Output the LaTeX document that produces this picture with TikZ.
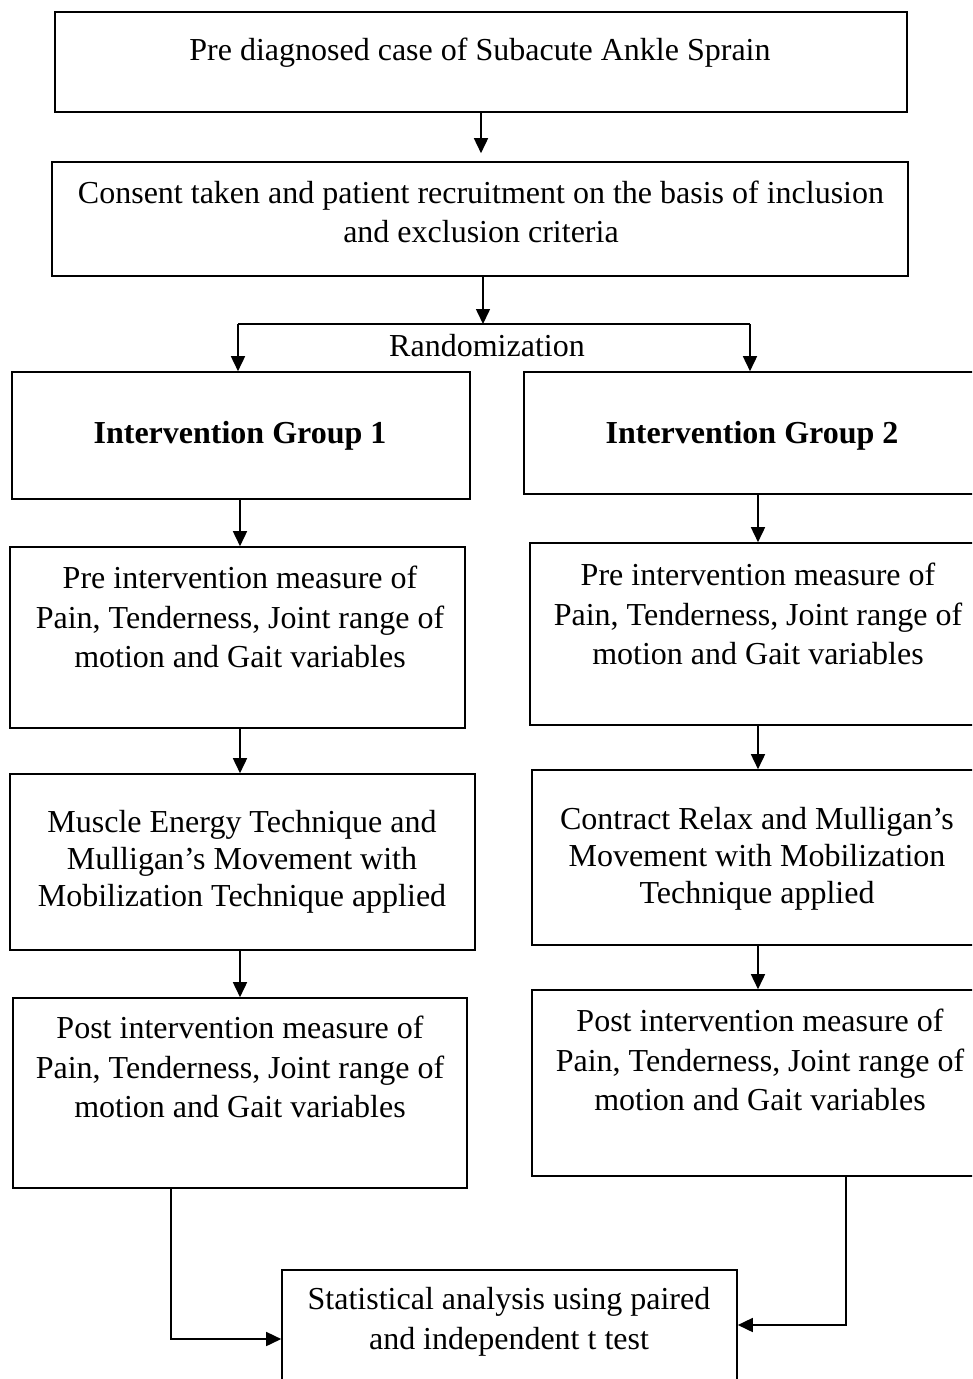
\documentclass[tikz,border=0pt]{standalone}
\usepackage{fontspec}
\setmainfont{Liberation Serif}
\usetikzlibrary{arrows.meta,fit}
\tikzset{
  box/.style={draw, line width=1.6pt, inner sep=0pt},
  txt/.style={align=center, inner sep=0pt, font=\fontsize{32}{39.5}\selectfont},
  txtb/.style={txt, font=\fontsize{32}{39.5}\selectfont\bfseries},
  conn/.style={line width=1.6pt},
  arr/.style={conn, -{Triangle[length=15pt,width=14pt]}}
}
\begin{document}
\begin{tikzpicture}[x=1pt,y=-1pt]
\useasboundingbox (0,0) rectangle (972,1379);
\clip (0,0) rectangle (972,1379);
% boxes
\node[box, fit={(55,12) (907,112)}] (top) {};
\node[box, fit={(52,162) (908,276)}] (consent) {};
\node[box, fit={(12,372) (470,499)}] (ig1) {};
\node[box, fit={(524,372) (990,494)}] (ig2) {};
\node[box, fit={(10,547) (465,728)}] (pre1) {};
\node[box, fit={(530,543) (990,725)}] (pre2) {};
\node[box, fit={(10,774) (475,950)}] (met) {};
\node[box, fit={(532,770) (990,945)}] (cr) {};
\node[box, fit={(13,998) (467,1188)}] (post1) {};
\node[box, fit={(532,990) (990,1176)}] (post2) {};
\node[box, fit={(282,1270) (737,1395)}] (stat) {};
% texts
\node[txt] (ttop) at (480,53) {Pre diagnosed case of Subacute Ankle Sprain};
\node[txt] (tconsent) at (481,212) {Consent taken and patient recruitment on the basis of inclusion\\and exclusion criteria};
\node[txt] (rand) at (487,346) {Randomization};
\node[txtb] (tig1) at (240,436) {Intervention Group 1};
\node[txtb] (tig2) at (752,436) {Intervention Group 2};
\node[txt] (tpre1) at (240,617) {Pre intervention measure of\\Pain, Tenderness, Joint range of\\motion and Gait variables};
\node[txt] (tpre2) at (758,614) {Pre intervention measure of\\Pain, Tenderness, Joint range of\\motion and Gait variables};
\node[txt, font=\fontsize{32}{37}\selectfont] (tmet) at (242,862) {Muscle Energy Technique and\\Mulligan’s Movement with\\Mobilization Technique applied};
\node[txt, font=\fontsize{32}{37}\selectfont] (tcr) at (757,859) {Contract Relax and Mulligan’s\\Movement with Mobilization\\Technique applied};
\node[txt] (tpost1) at (240,1067) {Post intervention measure of\\Pain, Tenderness, Joint range of\\motion and Gait variables};
\node[txt] (tpost2) at (760,1060) {Post intervention measure of\\Pain, Tenderness, Joint range of\\motion and Gait variables};
\node[txt] (tstat) at (509,1322) {Statistical analysis using paired\\and independent t test};
% coordinates
\coordinate (a1) at (481,0);
\coordinate (jM) at (483,324);
\coordinate (jL) at (238,324);
\coordinate (jR) at (750,324);
\coordinate (xl) at (240,0);
\coordinate (xr) at (758,0);
\coordinate (cL) at (171,1339);
\coordinate (cR) at (846,1325);
% connectors
\draw[arr, shorten >=8pt] (a1 |- top.south) -- (a1 |- consent.north);
\draw[arr] (jM |- consent.south) -- (jM);
\draw[conn] (jL) -- (jR);
\draw[arr] (jL) -- (jL |- ig1.north);
\draw[arr] (jR) -- (jR |- ig2.north);
\draw[arr] (xl |- ig1.south) -- (xl |- pre1.north);
\draw[arr] (xl |- pre1.south) -- (xl |- met.north);
\draw[arr] (xl |- met.south) -- (xl |- post1.north);
\draw[arr] (xr |- ig2.south) -- (xr |- pre2.north);
\draw[arr] (xr |- pre2.south) -- (xr |- cr.north);
\draw[arr] (xr |- cr.south) -- (xr |- post2.north);
\draw[arr] (cL |- post1.south) -- (cL) -- (cL -| stat.west);
\draw[arr] (cR |- post2.south) -- (cR) -- (cR -| stat.east);
\end{tikzpicture}
\end{document}
